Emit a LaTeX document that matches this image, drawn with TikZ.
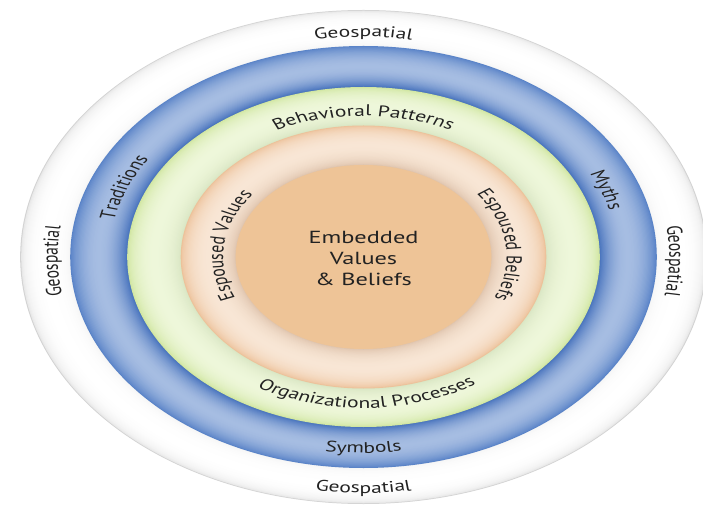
\documentclass[tikz,border=0pt]{standalone}
\usepackage{fontspec}
\setmainfont{PT Sans}
\usetikzlibrary{decorations.text}

\definecolor{txt}{HTML}{222222}
\definecolor{rimgray}{HTML}{BBBBBB}
\definecolor{rimin}{HTML}{E4E4E4}
\definecolor{blueout}{HTML}{5A84C8}
\definecolor{bluemid}{HTML}{A6BDE2}
\definecolor{bluein}{HTML}{406DBA}
\definecolor{greenout}{HTML}{D0E6A0}
\definecolor{greenmid}{HTML}{EEF7DA}
\definecolor{greenin}{HTML}{D6E3C0}
\definecolor{peachout}{HTML}{EDC199}
\definecolor{peachmid}{HTML}{F8E6D5}
\definecolor{peachin}{HTML}{DCC0A8}
\definecolor{core}{HTML}{EEC497}

\newcommand\lbl{\fontsize{15.5}{18}\selectfont}

% A shaded annulus: outer radius, inner radius, outer colour,
% middle colour, inner colour, exponent of the light profile.
\newcommand\ringband[6]{%
  \foreach \k in {0,...,48}{%
    \pgfmathsetmacro\bandpos{\k/48}%
    \pgfmathsetmacro\bandrad{#1-(#1-#2)*\bandpos}%
    \pgfmathsetmacro\bandmix{100*(max(abs(sin(180*\bandpos)),0.001))^(#6)}%
    \ifdim\bandpos pt<0.5pt\relax
      \colorlet{bandcol}{#4!\bandmix!#3}%
    \else
      \colorlet{bandcol}{#4!\bandmix!#5}%
    \fi
    \fill[bandcol] (0,0) circle[radius=\bandrad pt];
  }%
}

\tikzset{
  ringlabel/.style={decorate, decoration={text along path,
      text align=center, text color=txt, text={|\lbl|#1}}}
}

\begin{document}
\begin{tikzpicture}
  \fill[white] (-363.5pt,-251pt) rectangle (339.5pt,257pt);
  \useasboundingbox (-363.5pt,-251pt) rectangle (339.5pt,257pt);
  \begin{scope}
    % the round rings are widened into ellipses, lettering included
    \pgflowlevel{\pgftransformxscale{1.39}}

    \ringband{247}{211}{rimgray}{white}{rimin}{0.15}
    \ringband{211}{170}{blueout}{bluemid}{bluein}{0.8}
    \ringband{170}{131.5}{greenout}{greenmid}{greenin}{0.6}
    \ringband{131.5}{92}{peachout}{peachmid}{peachin}{0.6}
    \fill[core] (0,0) circle[radius=92pt];

    % outer ring
    \path[ringlabel=Geospatial] (150:220pt) arc[start angle=150, end angle=30, radius=220pt];
    \path[ringlabel=Geospatial] (241:220pt) arc[start angle=241, end angle=121, radius=220pt];
    \path[ringlabel=Geospatial] (59:220pt) arc[start angle=59, end angle=-61, radius=220pt];
    \path[ringlabel=Geospatial] (210:236pt) arc[start angle=210, end angle=330, radius=236pt];

    % blue ring
    \path[ringlabel=Traditions] (218:183pt) arc[start angle=218, end angle=98, radius=183pt];
    \path[ringlabel=Myths] (81:183pt) arc[start angle=81, end angle=-39, radius=183pt];
    \path[ringlabel=Symbols] (210:196pt) arc[start angle=210, end angle=330, radius=196pt];

    % green ring
    \path[ringlabel=Behavioral Patterns] (160:141pt) arc[start angle=160, end angle=20, radius=141pt];
    \path[ringlabel=Organizational Processes] (196:151pt) arc[start angle=196, end angle=346, radius=151pt];

    % peach ring
    \path[ringlabel=Espoused Values] (243:101pt) arc[start angle=243, end angle=103, radius=101pt];
    \path[ringlabel=Espoused Beliefs] (77:103pt) arc[start angle=77, end angle=-63, radius=103pt];

    % core
    \node[font=\fontsize{17.5}{21}\selectfont, text=txt, align=center, inner sep=0pt]
      (core) at (0,-1pt) {Embedded\\Values\\\& Beliefs};
  \end{scope}
\end{tikzpicture}
\end{document}
